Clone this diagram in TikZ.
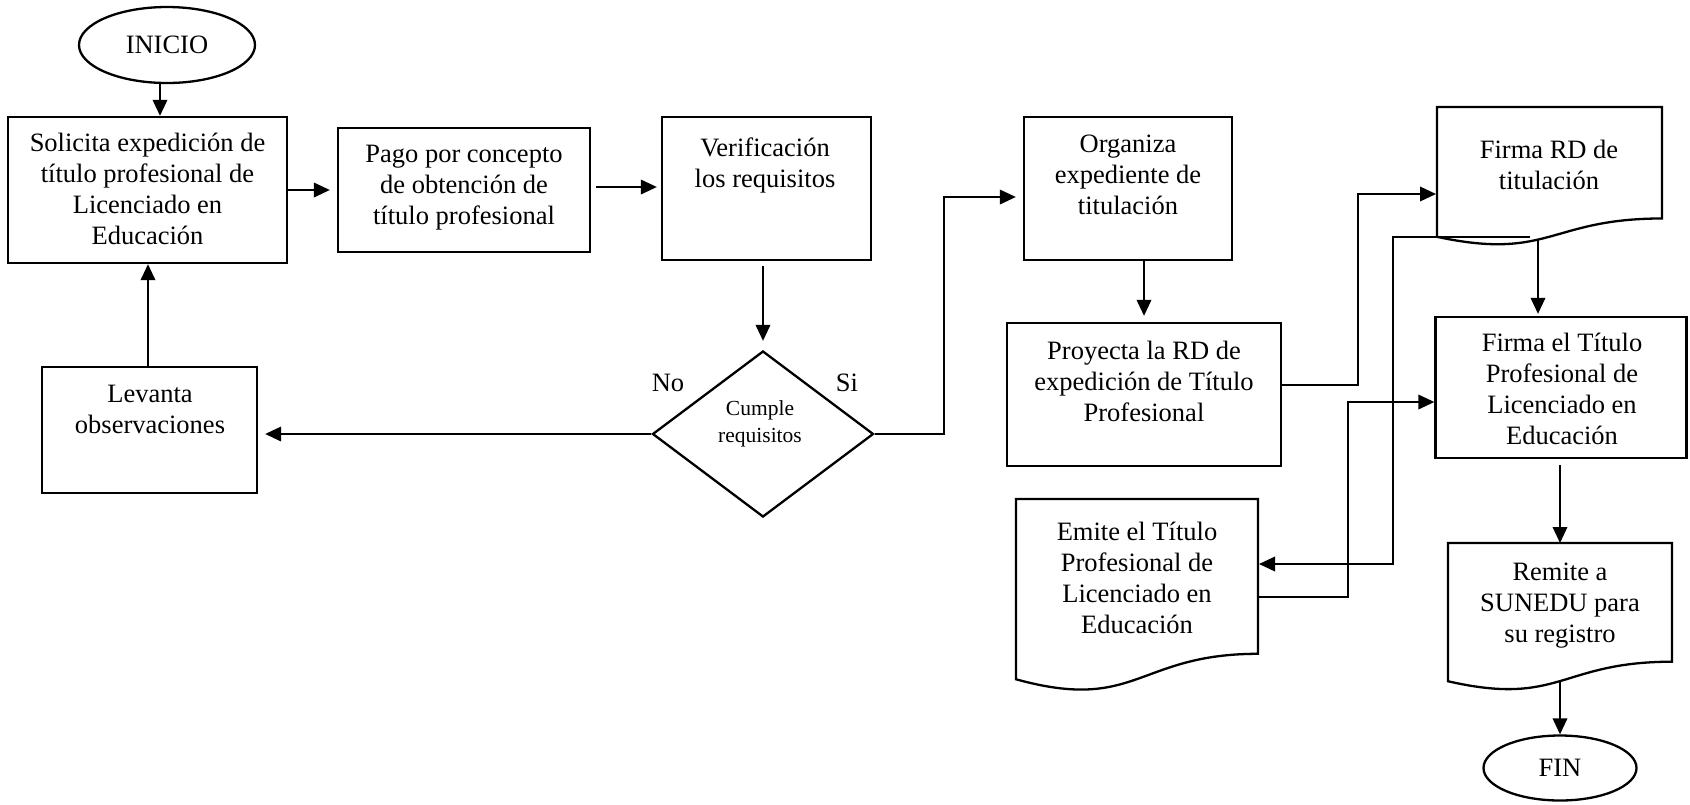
\documentclass[tikz,border=0pt]{standalone}
\usepackage{fontspec}
\setmainfont{Liberation Serif}
\usetikzlibrary{shapes.geometric,arrows.meta,calc}
\newcommand\bodysize{\fontsize{26.5}{31}\selectfont}
\newcommand\smallsize{\fontsize{21.5}{27}\selectfont}
% outline of a flowchart "document" symbol drawn over a frame node
\newcommand\docoutline[1]{%
  \draw[docline] (#1.north west) -- (#1.north east)
    -- ($(#1.north east)!0.802!(#1.south east)$)
    .. controls ($(#1.north)!0.802!(#1.south)$) and ($(#1.north)!1.1075!(#1.south)$)
    .. ($(#1.north west)!0.934!(#1.south west)$) -- cycle;}

\begin{document}
\begin{tikzpicture}[x=1pt,y=-1pt,
  box/.style={draw,rectangle,line width=2.3pt,inner sep=0pt},
  docframe/.style={rectangle,inner sep=0pt,outer sep=0pt},
  docline/.style={line width=2.3pt,line join=miter},
  term/.style={draw,ellipse,line width=2.3pt,inner sep=0pt,font=\bodysize},
  decision/.style={draw,diamond,line width=2.3pt,inner sep=0pt},
  txt/.style={align=center,inner sep=0pt,font=\bodysize},
  smalltxt/.style={align=center,inner sep=0pt,font=\smallsize},
  arr/.style={line width=2pt,-{Triangle[length=16pt,width=14.5pt]}}]

\useasboundingbox (0,0) rectangle (1690,804);

% terminals
\node[term,minimum width=176pt,minimum height=76pt] (inicio) at (167,45) {INICIO};
\node[term,minimum width=153pt,minimum height=65pt] (fin) at (1560,768) {FIN};

% process boxes
\node[box,minimum width=279pt,minimum height=146pt] (box1) at (147.5,190) {};
\node[box,minimum width=252pt,minimum height=124pt] (pago) at (464,190) {};
\node[box,minimum width=209pt,minimum height=143pt] (verif) at (766.5,188.5) {};
\node[box,minimum width=215pt,minimum height=126pt] (lev) at (149.5,430) {};
\node[box,minimum width=208pt,minimum height=143pt] (org) at (1128,188.5) {};
\node[box,minimum width=274pt,minimum height=143pt] (proy) at (1144,394.5) {};
\node[box,minimum width=251pt,minimum height=141pt] (tit) at (1561,387.5) {};

% decision
\node[decision,minimum width=221pt,minimum height=166pt] (dia) at (763,434) {};

% document symbols
\node[docframe,minimum width=225pt,minimum height=139pt] (rd) at (1549.5,176.5) {};
\node[docframe,minimum width=242pt,minimum height=193pt] (em) at (1137,595.5) {};
\node[docframe,minimum width=224pt,minimum height=148pt] (rem) at (1560,617) {};
\docoutline{rd}
\docoutline{em}
\docoutline{rem}

% texts
\node[txt] (t1) at (147.5,192) {\strut Solicita expedición de\\título profesional de\\Licenciado en\\\strut Educación};
\node[txt] (t2) at (464,187) {\strut Pago por concepto\\de obtención de\\\strut título profesional};
\node[txt] (t3) at (765,166) {\strut Verificación\\\strut los requisitos};
\node[txt] (t4) at (150,412) {\strut Levanta\\\strut observaciones};
\node[smalltxt] (t5) at (760,424) {\strut Cumple\\\strut requisitos};
\node[txt] (t6) at (1128,177) {\strut Organiza\\expediente de\\\strut titulación};
\node[txt] (t7) at (1144,384) {\strut Proyecta la RD de\\expedición de Título\\\strut Profesional};
\node[txt] (t8) at (1549,168) {\strut Firma RD de\\\strut titulación};
\node[txt] (t9) at (1562,392) {\strut Firma el Título\\Profesional de\\Licenciado en\\\strut Educación};
\node[txt] (t10) at (1137,581) {\strut Emite el Título\\Profesional de\\Licenciado en\\\strut Educación};
\node[txt] (t11) at (1560,605) {\strut Remite a\\SUNEDU para\\\strut su registro};
\node[txt] (no) at (668,385) {\strut No};
\node[txt] (si) at (847,385) {\strut Si};

% bend points of the connectors
\coordinate (bendA) at (944,197);
\coordinate (bendB) at (1358,194);
\coordinate (rdOut) at (1538,240);
\coordinate (rdTap) at (1530,237);
\coordinate (bendC) at (1393,564);
\coordinate (bendD) at (1348,402);

% connectors
\draw[arr] ([xshift=-7pt]inicio.south) -- ([xshift=-7pt]inicio.south |- box1.north);
\draw[arr,shorten >=7pt] (box1.east) -- (box1.east -| pago.west);
\draw[arr,shorten <=5pt,shorten >=4pt] ([yshift=3pt]pago.east) -- ([yshift=3pt]pago.east -| verif.west);
\draw[arr,shorten <=5pt,shorten >=9pt] (dia.north |- verif.south) -- (dia.north);
\draw[arr,shorten >=7pt] (dia.west) -- (dia.west -| lev.east);
\draw[arr] ([xshift=-1.5pt]lev.north) -- ([xshift=-1.5pt]lev.north |- box1.south);
\draw[arr,shorten >=7pt] (dia.east) -| (bendA) -- (bendA -| org.west);
\draw[arr,shorten >=6pt] (proy.north |- org.south) -- (proy.north);
\draw[arr,shorten >=1pt] ([yshift=10pt]proy.east) -| (bendB) -- (bendB -| rd.west);
\draw[arr,shorten >=2pt] (rdOut) -- (rdOut |- tit.north);
\draw[arr,shorten >=1pt] (rdTap) -| (bendC) -- (bendC -| em.east);
\draw[arr] ([yshift=-1.5pt]em.east) -| (bendD) -- (bendD -| tit.west);
\draw[arr,shorten <=6pt] (rem.north |- tit.south) -- (rem.north);
\draw[arr] ($(rem.north)!0.933!(rem.south)$) -- (fin.north);
\end{tikzpicture}
\end{document}
